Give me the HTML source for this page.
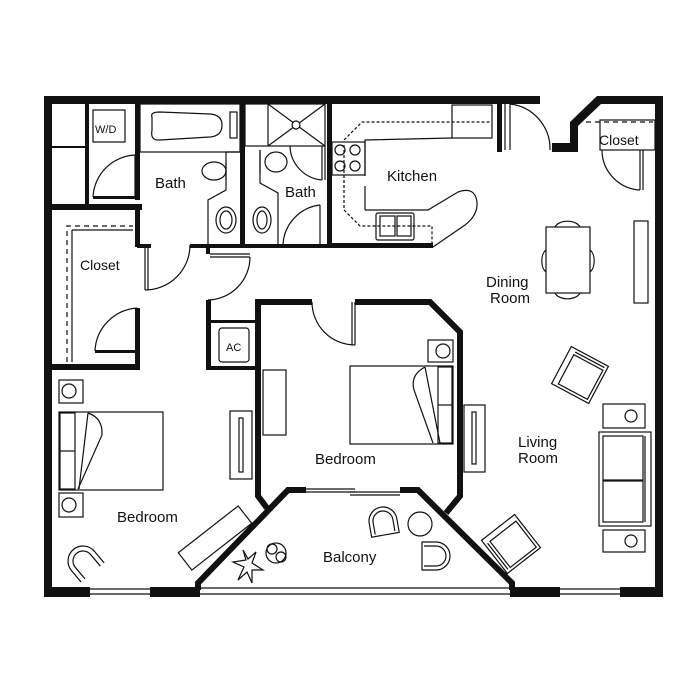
<!DOCTYPE html>
<html><head><meta charset="utf-8"><style>
html,body{margin:0;padding:0;background:#fff}
svg{display:block}
text{font-family:"Liberation Sans","DejaVu Sans",sans-serif;font-size:15px;fill:#111}
</style></head><body>
<svg width="700" height="700" viewBox="0 0 700 700" xmlns="http://www.w3.org/2000/svg">
<rect width="700" height="700" fill="#fff"/>
<g fill="#111" stroke="none">
<rect x="44" y="96" width="496" height="8"/>
<rect x="44" y="96" width="8" height="501"/>
<rect x="655" y="150" width="8" height="447"/>
<polygon points="597,96 663,96 663,152 655,152 655,104 601,104 578,126 578,152 552,152 552,143 570,143 570,122"/>
<rect x="44" y="587" width="46" height="10"/>
<rect x="150" y="587" width="50" height="10"/>
<rect x="510" y="587" width="50" height="10"/>
<rect x="620" y="587" width="43" height="10"/>
<rect x="85" y="104" width="4" height="103"/>
<rect x="52" y="146" width="35" height="2"/>
<rect x="44" y="204" width="98" height="6"/>
<rect x="135" y="104" width="5" height="96"/>
<rect x="93" y="196" width="45" height="3"/>
<rect x="135" y="207" width="5" height="40"/>
<rect x="135" y="308" width="5" height="60"/>
<rect x="44" y="364" width="96" height="6"/>
<rect x="95" y="350" width="42" height="3"/>
<rect x="240" y="104" width="5" height="142"/>
<rect x="327" y="104" width="5" height="143"/>
<rect x="190" y="244" width="140" height="4"/>
<rect x="137" y="244" width="14" height="4"/>
<rect x="327" y="243" width="106" height="5"/>
<rect x="497" y="104" width="5" height="48"/>
<rect x="206" y="248" width="4" height="6"/>
<rect x="206" y="300" width="5" height="70"/>
<rect x="206" y="320" width="55" height="3"/>
<rect x="206" y="366" width="55" height="4"/>
</g>
<g fill="none" stroke="#111" stroke-width="6" stroke-linejoin="miter">
<polyline points="312,302 258,302 258,496 267,508"/>
<polyline points="355,302 430,302 460,332 460,496 446,513"/>
<polyline points="306,490 288,490 198,583 198,590"/>
<polyline points="400,490 418,490 512,583 512,590"/>
</g>
<g fill="none" stroke="#111" stroke-width="1.2">
<line x1="90" y1="589" x2="150" y2="589"/><line x1="90" y1="594" x2="150" y2="594"/>
<line x1="200" y1="588" x2="510" y2="588"/><line x1="200" y1="594" x2="510" y2="594"/>
<line x1="560" y1="589" x2="620" y2="589"/><line x1="560" y1="594" x2="620" y2="594"/>
<line x1="306" y1="489" x2="355" y2="489"/><line x1="306" y1="492" x2="355" y2="492"/>
<line x1="350" y1="492" x2="400" y2="492"/><line x1="350" y1="495" x2="400" y2="495"/>
<path d="M93,197 A44,44 0 0 1 137,155"/>
<line x1="135" y1="155" x2="135" y2="197"/>
<path d="M95,351 A45,45 0 0 1 137,308"/>
<path d="M145,290 A45,45 0 0 0 190,245"/><line x1="145" y1="248" x2="145" y2="290"/><line x1="148" y1="248" x2="148" y2="290"/>
<path d="M250,257 A43,43 0 0 1 208,300"/><line x1="210" y1="254" x2="250" y2="254"/><line x1="210" y1="257" x2="250" y2="257"/>
<path d="M283,245 A42,42 0 0 1 320,205"/><line x1="320" y1="205" x2="320" y2="245"/>
<path d="M312,302 A43,43 0 0 0 355,345"/><line x1="352" y1="302" x2="352" y2="345"/><line x1="355" y1="302" x2="355" y2="345"/>
<path d="M510,104 A45,45 0 0 1 550,150"/><line x1="505" y1="104" x2="505" y2="150"/><line x1="510" y1="104" x2="510" y2="150"/>
<path d="M602,150 A40,40 0 0 0 640,190"/><line x1="640" y1="150" x2="640" y2="190"/><line x1="643" y1="150" x2="643" y2="190"/>
<rect x="600" y="120" width="55" height="30" fill="none"/>
<line x1="586" y1="122" x2="653" y2="122" stroke-dasharray="5,4"/>
<polyline points="67,362 67,226 133,226" stroke-dasharray="5,4"/>
<line x1="72" y1="230" x2="133" y2="230"/><line x1="72" y1="230" x2="72" y2="362"/>
<rect x="93" y="110" width="32" height="32"/>
<rect x="140" y="104" width="100" height="48"/>
<path d="M152,117 Q150,112 160,112 L210,114 Q222,115 222,125 Q222,136 210,137 L160,140 Q150,141 152,130 Z"/>
<rect x="230" y="112" width="7" height="26"/>
<ellipse cx="214" cy="171" rx="12" ry="9"/><path d="M226,162 L226,180"/>
<polyline points="240,152 226,152 226,190 208,200 208,244"/>
<ellipse cx="226" cy="220" rx="10" ry="13"/><ellipse cx="226" cy="220" rx="6" ry="9"/>
<rect x="245" y="104" width="80" height="42"/>
<line x1="268" y1="104" x2="325" y2="146"/><line x1="325" y1="104" x2="268" y2="146"/>
<circle cx="296" cy="125" r="4" fill="#fff"/>
<line x1="268" y1="104" x2="268" y2="146"/>
<path d="M290,146 A35,35 0 0 0 322,180"/><line x1="322" y1="146" x2="322" y2="180"/><line x1="325" y1="146" x2="325" y2="180"/>
<ellipse cx="276" cy="162" rx="11" ry="10"/><line x1="260" y1="150" x2="260" y2="173"/>
<polyline points="260,150 260,183 278,193 278,244"/>
<ellipse cx="262" cy="220" rx="9" ry="13"/><ellipse cx="262" cy="220" rx="5" ry="9"/>
<polyline points="365,176 365,140 452,138"/>
<rect x="452" y="105" width="40" height="33"/>
<rect x="332" y="142" width="33" height="33"/>
<circle cx="340" cy="150" r="5"/><circle cx="355" cy="150" r="5"/><circle cx="340" cy="166" r="5"/><circle cx="355" cy="166" r="5"/>
<line x1="365" y1="186" x2="365" y2="210"/>
<path d="M365,210 L428,210 L458,192 Q475,186 477,202 Q478,215 465,225 L433,247"/>
<rect x="376" y="213" width="38" height="27" rx="2"/>
<rect x="380" y="216" width="15" height="20"/><rect x="397" y="216" width="14" height="20"/>
<polyline points="344,140 362,122 492,122" stroke-dasharray="3,2"/>
<polyline points="344,145 344,210 360,226 432,226 432,243" stroke-dasharray="3,2"/>
<rect x="219" y="328" width="30" height="34" rx="3"/>
<rect x="546" y="227" width="44" height="66"/>
<path d="M555,227 A13,8 0 0 1 580,227"/><path d="M555,293 A13,8 0 0 0 580,293"/>
<path d="M546,250 A7,12 0 0 0 546,272"/><path d="M590,250 A7,12 0 0 1 590,272"/>
<rect x="634" y="221" width="14" height="82"/>
<g transform="translate(580,375) rotate(28)"><rect x="-21" y="-21" width="42" height="42"/><rect x="-15" y="-15" width="33" height="33"/><line x1="-15" y1="-18" x2="18" y2="-18"/></g>
<rect x="603" y="404" width="42" height="24"/><circle cx="631" cy="416" r="6"/>
<rect x="599" y="432" width="52" height="94"/><rect x="603" y="436" width="40" height="44"/><rect x="603" y="481" width="40" height="41"/><line x1="645" y1="436" x2="645" y2="522"/>
<rect x="603" y="530" width="42" height="22"/><circle cx="631" cy="541" r="6"/>
<g transform="translate(511,544) rotate(-38)"><rect x="-21" y="-21" width="42" height="42"/><rect x="-15" y="-15" width="33" height="33"/><line x1="-18" y1="-15" x2="-18" y2="18"/></g>
<rect x="350" y="366" width="103" height="78"/>
<rect x="438" y="367" width="14" height="76"/><line x1="438" y1="405" x2="452" y2="405"/>
<path d="M425,367 Q410,375 414,390 L433,443"/><path d="M425,367 L440,443"/>
<rect x="428" y="340" width="25" height="22"/><circle cx="443" cy="351" r="7"/>
<rect x="263" y="370" width="23" height="65"/>
<rect x="464" y="405" width="21" height="67"/><rect x="472" y="412" width="4" height="52"/>
<rect x="59" y="412" width="104" height="78"/>
<rect x="60" y="413" width="15" height="76"/><line x1="60" y1="451" x2="75" y2="451"/>
<path d="M88,413 Q103,418 102,435 L78,489"/><path d="M88,413 L79,489"/>
<rect x="59" y="380" width="24" height="23"/><circle cx="69" cy="391" r="7"/>
<rect x="59" y="493" width="24" height="24"/><circle cx="69" cy="505" r="7"/>
<rect x="230" y="411" width="22" height="68"/><rect x="239" y="418" width="4" height="54"/>
<g transform="translate(215,538) rotate(-38)"><rect x="-38" y="-11" width="76" height="22"/></g>
<g transform="translate(83,561) rotate(-40)"><path d="M-15,15 L-15,0 A15,15 0 0 1 15,0 L15,15"/><path d="M-10,15 L-10,0 A10,10 0 0 1 10,0 L10,15"/></g>
<circle cx="420" cy="524" r="12"/>
<g transform="translate(383,521) rotate(-10)"><path d="M-14,14 L-14,0 A14,14 0 0 1 14,0 L14,14 Z"/><path d="M-10,12 L-10,0 A10,10 0 0 1 10,0 L10,12"/></g>
<g transform="translate(436,556) rotate(90)"><path d="M-14,14 L-14,0 A14,14 0 0 1 14,0 L14,14 Z"/><path d="M-10,12 L-10,0 A10,10 0 0 1 10,0 L10,12"/></g>
<circle cx="276" cy="553" r="10"/><circle cx="272" cy="549" r="5"/><circle cx="281" cy="557" r="5"/>
<path d="M243,550 L246,560 L233,562 L244,567 L238,580 L247,572 L252,583 L252,570 L263,570 L252,563 L256,552 L248,559 Z"/>
</g>
<text x="95" y="133" style="font-size:11px">W/D</text>
<text x="155" y="188">Bath</text>
<text x="285" y="197">Bath</text>
<text x="387" y="181">Kitchen</text>
<text x="599" y="145" style="font-size:14px">Closet</text>
<text x="80" y="270" style="font-size:14px">Closet</text>
<text x="226" y="351" style="font-size:11px">AC</text>
<text x="486" y="287">Dining</text>
<text x="490" y="303">Room</text>
<text x="518" y="447">Living</text>
<text x="518" y="463">Room</text>
<text x="315" y="464">Bedroom</text>
<text x="117" y="522">Bedroom</text>
<text x="323" y="562">Balcony</text>
</svg>
</body></html>
